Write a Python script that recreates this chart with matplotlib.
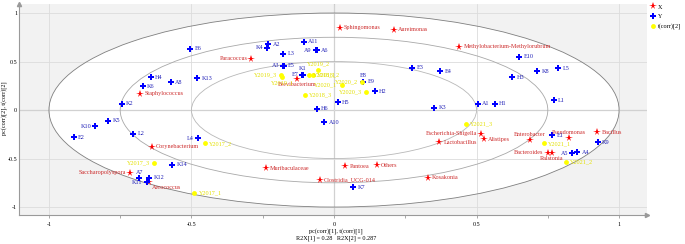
import matplotlib
matplotlib.use('Agg')
import matplotlib.pyplot as plt
from matplotlib.patches import Ellipse
from matplotlib.ticker import MultipleLocator

# X: bacteria (red stars)
x_names = ['Sphingomonas', 'Aureimonas', 'Methylobacterium-Methylorubrum', 'Paracoccus',
           'Staphylococcus', 'Brevibacterium', 'Corynebacterium', 'Saccharopolyspora',
           'Aerococcus', 'Muribaculaceae', 'Clostridia_UCG-014', 'Pantoea', 'Others',
           'Kosakonia', 'Lactobacillus', 'Escherichia-Shigella', 'Alistipes',
           'Enterobacter', 'Pseudomonas', 'Bacillus', 'Bacteroides', 'Ralstonia']
x_pc1 = [0.02, 0.21, 0.44, -0.29, -0.68, -0.13, -0.64, -0.715, -0.65, -0.24, -0.05, 0.04,
         0.15, 0.33, 0.37, 0.515, 0.525, 0.687, 0.823, 0.923, 0.749, 0.764]
x_pc2 = [0.85, 0.83, 0.65, 0.53, 0.17, 0.32, -0.38, -0.645, -0.74, -0.60, -0.72, -0.58,
         -0.57, -0.70, -0.33, -0.247, -0.30, -0.309, -0.292, -0.23, -0.44, -0.44]

# Y: samples (blue plus)
y_names = ['E6', 'H4', 'K6', 'A8', 'K13', 'K2', 'K5', 'K10', 'E2', 'L2', 'L4', 'K14',
           'A7', 'K12', 'K11', 'K4', 'A2', 'A11', 'A9', 'A6', 'L3', 'A3', 'E5', 'K1',
           'E7', 'E8', 'E9', 'H2', 'H5', 'H6', 'E3', 'E4', 'K3', 'A10', 'K7', 'E10',
           'K8', 'L5', 'H3', 'L1', 'A1', 'H1', 'E1', 'K9', 'A5', 'A4']
y_pc1 = [-0.504, -0.642, -0.671, -0.573, -0.48, -0.745, -0.792, -0.837, -0.913, -0.704,
         -0.478, -0.567, -0.683, -0.648, -0.657, -0.234, -0.23, -0.105, -0.063, -0.059,
         -0.178, -0.178, -0.176, -0.109, -0.111, 0.101, 0.103, 0.144, 0.014, -0.061,
         0.274, 0.373, 0.352, -0.034, 0.068, 0.65, 0.713, 0.787, 0.625, 0.77, 0.506,
         0.565, 0.766, 0.926, 0.835, 0.854]
y_pc2 = [0.632, 0.337, 0.247, 0.285, 0.327, 0.065, -0.11, -0.168, -0.282, -0.244, -0.292,
         -0.564, -0.701, -0.698, -0.742, 0.642, 0.68, 0.704, 0.615, 0.615, 0.581, 0.457,
         0.457, 0.366, 0.364, 0.29, 0.289, 0.196, 0.082, 0.013, 0.436, 0.402, 0.024,
         -0.127, -0.797, 0.55, 0.402, 0.43, 0.337, 0.103, 0.065, 0.065, -0.258, -0.333,
         -0.447, -0.436]

# t(corr)[2]: years (yellow circles)
t_names = ['Y2017_1', 'Y2017_2', 'Y2017_3', 'Y2018_1', 'Y2018_2', 'Y2018_3', 'Y2019_1',
           'Y2019_2', 'Y2019_3', 'Y2020_1', 'Y2020_2', 'Y2020_3', 'Y2021_1', 'Y2021_2',
           'Y2021_3']
t_pc1 = [-0.49, -0.454, -0.63, -0.088, -0.075, -0.101, -0.182, -0.055, -0.185, 0.027,
         0.098, 0.112, 0.737, 0.813, 0.462]
t_pc2 = [-0.852, -0.344, -0.543, 0.364, 0.364, 0.158, 0.337, 0.416, 0.364, 0.258, 0.292,
         0.189, -0.344, -0.533, -0.144]

# where each label sits relative to its marker (default: right)
LABEL_SIDE = {
    'Paracoccus': 'l', 'Brevibacterium': 'b', 'Saccharopolyspora': 'l', 'Aerococcus': 'br',
    'Escherichia-Shigella': 'l', 'Enterobacter': 'a', 'Pseudomonas': 'a',
    'Bacteroides': 'l', 'Ralstonia': 'b',
    'K10': 'l', 'L4': 'l', 'A7': 'a', 'K11': 'l', 'K4': 'l', 'A9': 'l', 'A3': 'l',
    'K1': 'a', 'E7': 'l', 'E8': 'a', 'A5': 'l',
    'Y2017_3': 'l', 'Y2019_1': 'b', 'Y2019_2': 'a', 'Y2019_3': 'l', 'Y2020_1': 'l',
    'Y2020_2': 'l', 'Y2020_3': 'l',
}
OFFSETS = {'r': ((3, 0), 'left', 'center'), 'l': ((-3, 0), 'right', 'center'),
           'a': ((0, 2.5), 'center', 'bottom'), 'b': ((0, -2.5), 'center', 'top'),
           'br': ((2, -2.5), 'left', 'top')}

SERIF = 'Liberation Serif'
GRID = '#dcdcdc'
FS = 4.4

fig = plt.figure(figsize=(6.85, 2.44), dpi=100)
ax = fig.add_axes([19.3 / 685, 1 - 215 / 244, (647 - 19.3) / 685, (215 - 4) / 244])
ax.set_xlim(-1.104, 1.098)
ax.set_ylim(-1.082, 1.093)
ax.set_facecolor('#f2f2f2')

# white inside the outer circle, then the three circles
ax.add_patch(Ellipse((0, 0), 2, 2, facecolor='white', edgecolor='none', zorder=0.1))
for r, col in [(1.0, '#7f7f7f'), (0.75, '#a8a8a8'), (0.5, '#b8b8b8')]:
    ax.add_patch(Ellipse((0, 0), 2 * r, 2 * r, facecolor='none', edgecolor=col,
                         lw=0.6, zorder=0.6))

ax.set_axisbelow(True)
ax.xaxis.set_major_locator(MultipleLocator(0.5))
ax.yaxis.set_major_locator(MultipleLocator(0.5))
ax.xaxis.set_minor_locator(MultipleLocator(0.25))
ax.grid(True, which='major', color=GRID, lw=0.6)
ax.axhline(0, color='#9a9a9a', lw=0.8, zorder=0.5)
ax.axvline(0, color='#9a9a9a', lw=0.8, zorder=0.5)

for s in ['top', 'right']:
    ax.spines[s].set_visible(False)
for s in ['left', 'bottom']:
    ax.spines[s].set_color('#9a9a9a')
    ax.spines[s].set_linewidth(0.8)
ax.plot(1, 0, '>', color='#9a9a9a', ms=3, transform=ax.transAxes, clip_on=False)
ax.plot(0, 1, '^', color='#9a9a9a', ms=3, transform=ax.transAxes, clip_on=False)

ax.tick_params(axis='x', which='both', length=2.5, width=0.6, color='#9a9a9a',
               labelsize=FS, pad=2.5)
ax.tick_params(axis='y', length=0, labelsize=FS, pad=1.5)
ax.set_xticks([-1, -0.5, 0, 0.5, 1])
ax.set_xticklabels(['-1', '-0.5', '0', '0.5', '1'], family=SERIF)
ax.set_yticks([-1, -0.5, 0, 0.5, 1])
ax.set_yticklabels(['-1', '-0.5', '0', '0.5', '1'], family=SERIF)

fig.text(4.5 / 685, 1 - 108 / 244, 'pc(corr)[2], t(corr)[2]', fontsize=FS, family=SERIF,
         ha='center', va='center', rotation=90)
fig.text(336 / 685, 1 - 231 / 244, 'pc(corr)[1], t(corr)[1]', fontsize=FS, family=SERIF,
         ha='center', va='center')
fig.text(336 / 685, 1 - 238.5 / 244, 'R2X[1] = 0.28   R2X[2] = 0.287', fontsize=FS,
         family=SERIF, ha='center', va='center')

groups = [
    (x_names, x_pc1, x_pc2, '*', '#ff0000', 5.4, '#cc2a2a', 'X'),
    (y_names, y_pc1, y_pc2, 'P', '#0000ff', 4.4, '#2222b8', 'Y'),
    (t_names, t_pc1, t_pc2, 'o', '#ffff00', 3.5, '#e3e000', 't(corr)[2]'),
]
for names, xs, ys, mk, col, ms, tcol, lab in groups:
    ax.plot(xs, ys, ls='none', marker=mk, color=col, ms=ms, mew=0, label=lab, zorder=3)
    for n, xv, yv in zip(names, xs, ys):
        off, ha, va = OFFSETS[LABEL_SIDE.get(n, 'r')]
        ax.annotate(n, (xv, yv), xytext=off, textcoords='offset points', ha=ha, va=va,
                    fontsize=FS, family=SERIF, color=tcol, zorder=4)

fig.legend(loc='upper left', bbox_to_anchor=(646 / 685, 1.0), frameon=False,
           prop={'family': SERIF, 'size': FS}, handlelength=0.8, handletextpad=0.4,
           labelspacing=0.7, borderaxespad=0.3)

fig.savefig('out.png', dpi=100)
